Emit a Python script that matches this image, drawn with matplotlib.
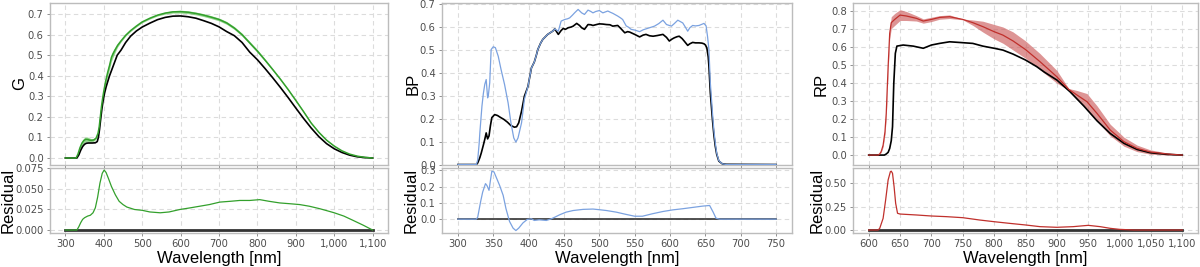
import matplotlib
matplotlib.use("Agg")
import matplotlib.pyplot as plt
from matplotlib.ticker import FuncFormatter, MultipleLocator

# ---- G band -------------------------------------------------------------
g_ref_wl = [300, 330, 335, 340, 345, 350, 355, 360, 370, 378, 383, 386, 389, 392, 395, 398,
            402, 406, 410, 415, 420, 428, 435, 445, 457, 470, 485, 500, 520, 540, 560, 580,
            600, 620, 640, 660, 680, 700, 720, 740, 760, 780, 800, 820, 840, 860, 880, 900,
            920, 940, 960, 980, 1000, 1020, 1040, 1060, 1080, 1100]
g_ref = [0, 0, 0.015, 0.038, 0.056, 0.067, 0.072, 0.073, 0.073, 0.074, 0.08, 0.1, 0.14, 0.19,
         0.237, 0.275, 0.315, 0.345, 0.37, 0.4, 0.425, 0.465, 0.5, 0.525, 0.562, 0.593, 0.618,
         0.637, 0.656, 0.673, 0.684, 0.69, 0.691, 0.687, 0.68, 0.668, 0.655, 0.638, 0.615,
         0.595, 0.562, 0.515, 0.478, 0.435, 0.39, 0.343, 0.294, 0.243, 0.193, 0.146, 0.104,
         0.07, 0.045, 0.027, 0.014, 0.006, 0.002, 0]

g_mod_wl = [300, 328, 333, 338, 343, 348, 353, 358, 363, 368, 374, 380, 385, 388, 391, 394,
            397, 400, 405, 410, 415, 420, 425, 430, 436, 445, 457, 470, 485, 500, 520, 540,
            560, 580, 600, 620, 640, 660, 680, 700, 720, 740, 760, 780, 800, 820, 840, 860,
            880, 900, 920, 940, 960, 980, 1000, 1020, 1040, 1060, 1080, 1100]
g_mod = [0, 0, 0.02, 0.05, 0.072, 0.085, 0.091, 0.09, 0.087, 0.086, 0.088, 0.097, 0.12, 0.15,
         0.2, 0.25, 0.29, 0.325, 0.375, 0.415, 0.45, 0.49, 0.51, 0.528, 0.548, 0.57, 0.597,
         0.62, 0.642, 0.662, 0.68, 0.695, 0.705, 0.711, 0.712, 0.709, 0.703, 0.695, 0.685,
         0.674, 0.657, 0.632, 0.6, 0.56, 0.52, 0.476, 0.43, 0.383, 0.333, 0.28, 0.226, 0.17,
         0.125, 0.087, 0.058, 0.035, 0.019, 0.009, 0.003, 0]
g_err = [0, 0, 0.004, 0.008, 0.01, 0.012, 0.012, 0.012, 0.01, 0.008, 0.006, 0.005, 0.005,
         0.006, 0.008, 0.01, 0.012, 0.014, 0.016, 0.018, 0.018, 0.018, 0.016, 0.012, 0.008,
         0.005, 0.004, 0.004, 0.004, 0.004, 0.004, 0.004, 0.005, 0.006, 0.007, 0.007, 0.007,
         0.007, 0.007, 0.007, 0.007, 0.007, 0.007, 0.007, 0.007, 0.006, 0.005, 0.004, 0.004,
         0.004, 0.004, 0.003, 0.003, 0.002, 0.002, 0.001, 0.001, 0.001, 0, 0]

g_res_wl = [300, 330, 335, 340, 345, 350, 358, 365, 372, 378, 384, 390, 396, 401, 406, 412,
            420, 430, 440, 450, 460, 480, 500, 520, 547, 570, 598, 625, 650, 675, 702, 730,
            754, 780, 806, 830, 858, 885, 910, 935, 962, 985, 1000, 1025, 1048, 1075, 1100]
g_res = [0, 0, 0.004, 0.009, 0.013, 0.015, 0.017, 0.018, 0.021, 0.027, 0.04, 0.057, 0.069,
         0.073, 0.07, 0.063, 0.053, 0.043, 0.035, 0.031, 0.028, 0.025, 0.024, 0.022, 0.021,
         0.022, 0.025, 0.027, 0.029, 0.031, 0.034, 0.035, 0.036, 0.036, 0.037, 0.035, 0.033,
         0.032, 0.031, 0.029, 0.026, 0.023, 0.021, 0.017, 0.012, 0.006, 0]

# ---- BP band ------------------------------------------------------------
bp_ref_wl = [300, 326, 328, 331, 333, 336, 338, 340, 342, 344, 346, 348, 352, 356, 360, 365,
             370, 375, 380, 383, 386, 390, 394, 399, 404, 408, 411, 413, 417, 420, 427, 434,
             437, 442, 446, 449, 452, 456, 460, 463, 468, 472, 475, 479, 484, 488, 491, 496,
             500, 505, 510, 515, 519, 526, 530, 536, 540, 543, 550, 557, 562, 566, 571, 576,
             582, 590, 595, 599, 603, 606, 610, 613, 617, 620, 625, 628, 632, 636, 641, 645,
             648, 650, 652, 654, 655, 657, 660, 662, 664, 666, 669, 674, 680, 750]
bp_ref = [0, 0, 0.007, 0.03, 0.05, 0.085, 0.11, 0.138, 0.112, 0.125, 0.17, 0.205, 0.218,
          0.214, 0.206, 0.197, 0.185, 0.17, 0.163, 0.165, 0.182, 0.233, 0.298, 0.34, 0.422,
          0.447, 0.478, 0.502, 0.53, 0.546, 0.568, 0.582, 0.592, 0.568, 0.585, 0.594, 0.59,
          0.597, 0.6, 0.604, 0.616, 0.607, 0.597, 0.59, 0.611, 0.61, 0.607, 0.611, 0.614,
          0.613, 0.611, 0.61, 0.604, 0.607, 0.595, 0.575, 0.58, 0.578, 0.568, 0.557, 0.565,
          0.568, 0.562, 0.56, 0.563, 0.568, 0.555, 0.539, 0.548, 0.553, 0.558, 0.56, 0.55,
          0.539, 0.52, 0.527, 0.533, 0.531, 0.531, 0.53, 0.527, 0.522, 0.51, 0.47, 0.43,
          0.313, 0.196, 0.13, 0.08, 0.045, 0.015, 0.003, 0.001, 0]

bp_mod_wl = [300, 326, 328, 330, 331, 334, 336, 338, 340, 342, 343, 345, 347, 350, 353, 357,
             361, 366, 371, 375, 379, 382, 385, 390, 394, 399, 404, 408, 411, 413, 417, 420,
             427, 434, 437, 442, 446, 451, 455, 458, 462, 465, 470, 475, 479, 484, 488, 491,
             495, 500, 505, 512, 516, 519, 526, 530, 533, 538, 541, 545, 550, 557, 562, 566,
             572, 578, 584, 590, 595, 602, 606, 611, 618, 622, 625, 628, 632, 636, 641, 645,
             648, 651, 653, 655, 657, 660, 662, 664, 666, 669, 674, 680, 750]
bp_mod = [0, 0, 0.02, 0.09, 0.138, 0.255, 0.31, 0.35, 0.371, 0.291, 0.3, 0.357, 0.502, 0.514,
          0.51, 0.473, 0.415, 0.349, 0.269, 0.182, 0.116, 0.098, 0.116, 0.182, 0.284, 0.34,
          0.422, 0.447, 0.478, 0.502, 0.53, 0.546, 0.568, 0.582, 0.592, 0.582, 0.626, 0.633,
          0.636, 0.64, 0.652, 0.662, 0.677, 0.662, 0.655, 0.674, 0.668, 0.662, 0.668, 0.672,
          0.662, 0.67, 0.664, 0.66, 0.648, 0.64, 0.633, 0.605, 0.6, 0.59, 0.587, 0.58, 0.588,
          0.592, 0.598, 0.604, 0.615, 0.63, 0.611, 0.604, 0.615, 0.63, 0.618, 0.598, 0.582,
          0.597, 0.607, 0.605, 0.607, 0.612, 0.616, 0.605, 0.56, 0.502, 0.357, 0.226, 0.15,
          0.095, 0.05, 0.017, 0.003, 0, 0]

bp_res_wl = [300, 326, 328, 332, 335, 339, 341, 344, 346, 348, 351, 354, 359, 364, 368, 373,
             378, 382, 386, 392, 398, 404, 408, 415, 425, 432, 437, 444, 453, 463, 477, 491,
             500, 510, 524, 538, 550, 561, 575, 590, 604, 618, 632, 646, 656, 661, 665, 670, 750]
bp_res = [0, 0, 0.012, 0.105, 0.166, 0.218, 0.207, 0.177, 0.238, 0.294, 0.29, 0.259, 0.207,
          0.146, 0.064, -0.014, -0.055, -0.07, -0.055, -0.023, -0.002, 0.002, -0.008, -0.004,
          -0.008, 0.002, 0.012, 0.027, 0.043, 0.053, 0.06, 0.062, 0.058, 0.053, 0.043, 0.029,
          0.018, 0.018, 0.033, 0.047, 0.057, 0.064, 0.072, 0.08, 0.084, 0.043, 0.006, 0, 0]

# ---- RP band ------------------------------------------------------------
rp_ref_wl = [600, 625, 628, 631, 633.5, 636, 638, 640, 642.5, 645, 655, 671, 687, 700, 713,
             729, 750, 766, 782, 800, 814, 830, 850, 868, 880, 900, 921, 943, 964, 985, 1007,
             1028, 1049, 1076, 1100]
rp_ref = [0, 0, 0.006, 0.015, 0.037, 0.08, 0.157, 0.397, 0.564, 0.604, 0.61, 0.604, 0.592,
          0.61, 0.619, 0.628, 0.623, 0.619, 0.604, 0.592, 0.582, 0.56, 0.527, 0.49, 0.46,
          0.416, 0.351, 0.272, 0.19, 0.12, 0.065, 0.031, 0.013, 0.004, 0]

rp_mod_wl = [600, 615, 617.5, 620, 623, 626, 628, 631, 633.5, 636, 641.5, 650, 660, 676, 687,
             700, 713, 729, 750, 766, 782, 800, 814, 830, 850, 873, 900, 919, 932, 948, 964,
             985, 1007, 1028, 1049, 1076, 1100]
rp_mod = [0, 0, 0.006, 0.02, 0.055, 0.13, 0.231, 0.49, 0.675, 0.734, 0.752, 0.776, 0.771,
          0.758, 0.743, 0.752, 0.763, 0.767, 0.752, 0.734, 0.712, 0.684, 0.665, 0.633, 0.585,
          0.518, 0.434, 0.364, 0.333, 0.296, 0.231, 0.139, 0.074, 0.037, 0.017, 0.006, 0]
rp_err = [0, 0, 0.003, 0.005, 0.01, 0.015, 0.02, 0.025, 0.03, 0.033, 0.033, 0.03, 0.025,
          0.015, 0.012, 0.012, 0.01, 0.01, 0.002, 0.015, 0.03, 0.04, 0.045, 0.05, 0.048,
          0.045, 0.035, 0.005, 0.025, 0.045, 0.042, 0.032, 0.025, 0.018, 0.012, 0.006, 0]

rp_res_wl = [600, 615, 617.6, 623, 627, 631, 634.6, 636, 638, 640.5, 643, 646, 650, 676, 700,
             724, 750, 777, 800, 825, 850, 873, 900, 926, 950, 969, 985, 1000, 1023, 1100]
rp_res = [0, 0, 0.018, 0.125, 0.32, 0.536, 0.625, 0.63, 0.607, 0.464, 0.286, 0.179, 0.171,
          0.161, 0.15, 0.143, 0.132, 0.107, 0.089, 0.071, 0.054, 0.036, 0.029, 0.036, 0.05,
          0.036, 0.018, 0.007, 0, 0]

GRID = "#dcdcdc"
SPINE = "#bcbcbc"
TICKTXT = "#4d4d4d"
LABEL_FONT = "Liberation Sans"

plt.rcParams["font.family"] = ["DejaVu Sans"]


def comma(v, _pos):
    return f"{int(round(v)):,}"


def style(ax):
    for s in ax.spines.values():
        s.set_color(SPINE)
        s.set_linewidth(1.0)
    ax.grid(True, color=GRID, ls=(0, (4, 3)), lw=0.8)
    ax.set_axisbelow(True)
    ax.tick_params(length=2.5, width=0.6, color="#7f7f7f", labelsize=7.2,
                   labelcolor=TICKTXT, pad=2)


fig = plt.figure(figsize=(12, 2.67), dpi=100)

panels = [
    # name, left, width, xlim, xstep, ylim top, ystep top, ylim res, ystep res, res fmt,
    # colour, band colour, ylabel offsets (px), data
    ("G", 50, 338, (260, 1140), 100, (-0.034, 0.754), 0.1, (-0.0036, 0.0755), 0.025, "{:.3f}",
     "#33a02c", "#5cbf52", (-30, -42),
     (g_ref_wl, g_ref, g_mod_wl, g_mod, g_err, g_res_wl, g_res)),
    ("BP", 442, 350, (277.5, 772.5), 50, (-0.002, 0.705), 0.1, (-0.085, 0.314), 0.1, "{:.1f}",
     "#7ba2e0", "#9dbbe8", (-29, -31),
     (bp_ref_wl, bp_ref, bp_mod_wl, bp_mod, None, bp_res_wl, bp_res)),
    ("RP", 853, 345, (575, 1125), 50, (-0.055, 0.843), 0.1, (-0.032, 0.664), 0.25, "{:.2f}",
     "#c0302c", "#cc5c5c", (-32, -36),
     (rp_ref_wl, rp_ref, rp_mod_wl, rp_mod, rp_err, rp_res_wl, rp_res)),
]

W, H = 1200, 267
for (name, left, width, xlim, xstep, ylim_t, ystep_t, ylim_r, ystep_r, rfmt,
     col, bcol, lab_off, data) in panels:
    ref_wl, ref, mod_wl, mod, err, res_wl, res = data
    ax = fig.add_axes([left / W, (H - 165) / H, width / W, 162 / H])
    axr = fig.add_axes([left / W, (H - 233) / H, width / W, 65 / H])
    for a in (ax, axr):
        style(a)
        a.set_xlim(*xlim)
        a.xaxis.set_major_locator(MultipleLocator(xstep))

    if err is not None:
        lo = [m - e for m, e in zip(mod, err)]
        hi = [m + e for m, e in zip(mod, err)]
        ax.fill_between(mod_wl, lo, hi, color=bcol, alpha=0.65, lw=0, zorder=2)
    ax.plot(ref_wl, ref, color="black", lw=1.2, zorder=3)
    ax.plot(mod_wl, mod, color=col, lw=0.9 if name != "G" else 1.1, zorder=4)
    ax.set_ylim(*ylim_t)
    ax.yaxis.set_major_locator(MultipleLocator(ystep_t))
    ax.yaxis.set_major_formatter(FuncFormatter(lambda v, p: f"{v:.1f}"))
    ax.tick_params(axis="x", labelbottom=False)
    ax.set_ylabel(name, fontsize=12, family=LABEL_FONT, va="center")
    ax.yaxis.set_label_coords(lab_off[0] / width, 0.5)

    axr.plot([res_wl[0], res_wl[-1]], [0, 0], color="#333333",
             lw=2.0 if name != "BP" else 1.2, zorder=3)
    axr.plot(res_wl, res, color=col, lw=0.9, zorder=4)
    axr.set_ylim(*ylim_r)
    axr.yaxis.set_major_locator(MultipleLocator(ystep_r))
    axr.yaxis.set_major_formatter(FuncFormatter(lambda v, p, f=rfmt: f.format(v)))
    axr.xaxis.set_major_formatter(FuncFormatter(comma))
    axr.set_ylabel("Residual", fontsize=12, family=LABEL_FONT, va="center")
    axr.yaxis.set_label_coords(lab_off[1] / width, 0.5)
    axr.set_xlabel("Wavelength [nm]", fontsize=12, family=LABEL_FONT, labelpad=1)

fig.savefig("out.png", dpi=100)
